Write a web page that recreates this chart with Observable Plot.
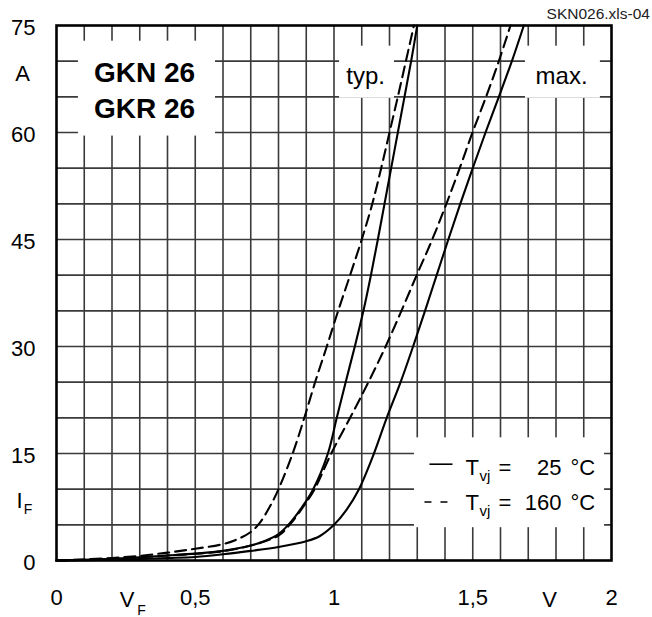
<!DOCTYPE html>
<html>
<head>
<meta charset="utf-8">
<script src="https://cdn.jsdelivr.net/npm/d3@7"></script>
<script src="https://cdn.jsdelivr.net/npm/@observablehq/plot@0.6"></script>
<style>
  html, body { margin: 0; padding: 0; background: #fff; }
  #chart svg { display: block; }
</style>
</head>
<body>
<div id="chart"></div>
<script>
// ---- data ----
const xTicks = [0, 0.5, 1, 1.5, 2];
const yTicks = [0, 15, 30, 45, 60, 75];
const xGrid = d3.range(1, 20).map(k => k / 10);
const yGrid = d3.range(1, 15).map(k => k * 5);

// typ., Tvj = 25 °C (solid)
const vTyp25 = [0, 0.1, 0.2, 0.3, 0.4, 0.5, 0.6, 0.7, 0.755, 0.8, 0.84, 0.885, 0.925, 0.978, 1.01, 1.042, 1.075, 1.106, 1.133, 1.158, 1.182, 1.206, 1.23, 1.254, 1.278, 1.30];
const iTyp25 = [0, 0.1, 0.25, 0.45, 0.7, 0.96, 1.35, 2.1, 2.8, 3.7, 5.2, 7.5, 10, 15, 20, 25, 30, 35, 40, 45, 50, 55, 60, 65, 70, 75];
// typ., Tvj = 160 °C (dashed)
const vTyp160 = [0, 0.1, 0.2, 0.3, 0.4, 0.5, 0.6, 0.653, 0.7, 0.731, 0.768, 0.80, 0.851, 0.893, 0.932, 0.974, 1.015, 1.058, 1.10, 1.138, 1.17, 1.20, 1.23, 1.259, 1.288];
const iTyp160 = [0, 0.15, 0.35, 0.65, 1.1, 1.65, 2.3, 3.0, 4.0, 5.2, 7.5, 10, 15, 20, 25, 30, 35, 40, 45, 50, 55, 60, 65, 70, 75];
// max., Tvj = 160 °C (dashed)
const vMax160 = [0, 0.1, 0.2, 0.3, 0.4, 0.5, 0.6, 0.7, 0.8, 0.84, 0.885, 0.93, 0.99, 1.058, 1.124, 1.186, 1.243, 1.298, 1.354, 1.405, 1.453, 1.499, 1.548, 1.594, 1.636];
const iMax160 = [0, 0.1, 0.25, 0.45, 0.7, 0.95, 1.3, 2.1, 3.5, 5.0, 7.3, 10, 15, 20, 25, 30, 35, 40, 45, 50, 55, 60, 65, 70, 75];
// max., Tvj = 25 °C (solid)
const vMax25 = [0, 0.1, 0.2, 0.3, 0.4, 0.5, 0.6, 0.7, 0.8, 0.9, 0.948, 1.0, 1.045, 1.09, 1.144, 1.19, 1.24, 1.285, 1.328, 1.37, 1.412, 1.455, 1.5, 1.546, 1.594, 1.641, 1.684];
const iMax25 = [0, 0.05, 0.12, 0.22, 0.35, 0.5, 0.87, 1.35, 1.9, 2.7, 3.4, 5.0, 7.1, 10, 15, 20, 25, 30, 35, 40, 45, 50, 55, 60, 65, 70, 75];

const titleLines = ["GKN 26", "GKR 26"];
const curveLabels = ["typ.", "max."];
const legendTemps = ["25", "160"];

const rows = (vs, is) => vs.map((v, k) => ({v, i: is[k]}));
const solid = [rows(vTyp25, iTyp25), rows(vMax25, iMax25)];
const dashed = [rows(vTyp160, iTyp160), rows(vMax160, iMax160)];

const FONT = "'Liberation Sans', Arial, Helvetica, sans-serif";
const gridStroke = "#3a3a3a";

const chart = Plot.plot({
  width: 652,
  height: 617,
  marginLeft: 56,
  marginRight: 41,
  marginTop: 25,
  marginBottom: 57,
  style: {fontFamily: FONT, background: "#fff", color: "#000", overflow: "visible"},
  x: {domain: [0, 2], label: null},
  y: {domain: [0, 75], label: null},
  marks: [
    Plot.ruleX(xGrid, {stroke: gridStroke, strokeWidth: 1.6}),
    Plot.ruleY(yGrid, {stroke: gridStroke, strokeWidth: 1.6}),
    // white label boxes interrupting the grid
    Plot.rect([
      {x1: 0.079, x2: 0.573, y1: 59.5, y2: 72.8},
      {x1: 1.02, x2: 1.218, y1: 64.8, y2: 72.1},
      {x1: 1.69, x2: 1.96, y1: 64.8, y2: 72.1},
      {x1: 1.29, x2: 1.975, y1: 4.6, y2: 17.2}
    ], {x1: "x1", x2: "x2", y1: "y1", y2: "y2", fill: "#fff"}),
    Plot.frame({stroke: "#000", strokeWidth: 2.6}),
    ...solid.map(d => Plot.line(d, {x: "v", y: "i", stroke: "#000", strokeWidth: 2.1, curve: "catmull-rom"})),
    ...dashed.map(d => Plot.line(d, {x: "v", y: "i", stroke: "#000", strokeWidth: 2.1, strokeDasharray: "11,6", curve: "catmull-rom"})),
    // axes
    Plot.axisX(xTicks, {tickSize: 0, tickPadding: 29, fontSize: 22, label: null,
      tickFormat: d => String(d).replace(".", ",")}),
    Plot.axisY(yTicks, {tickSize: 0, tickPadding: 21, fontSize: 22, label: null, dy: 2}),
    // axis units / names
    Plot.text(["A"], {x: [-0.1225], y: [68.2], fontSize: 22}),
    Plot.text(["I"], {x: [-0.133], y: [8.3], fontSize: 22}),
    Plot.text(["F"], {x: [-0.103], y: [7.2], fontSize: 14}),
    Plot.text(["V"], {x: [0.254], y: [-5.6], fontSize: 22}),
    Plot.text(["F"], {x: [0.306], y: [-7.0], fontSize: 14}),
    Plot.text(["V"], {x: [1.777], y: [-5.6], fontSize: 22}),
    // type title
    Plot.text(titleLines, {x: [0.317, 0.317], y: [68.3, 63.3], fontSize: 28, fontWeight: "bold"}),
    // typ / max
    Plot.text(curveLabels, {x: [1.114, 1.82], y: [67.9, 67.9], fontSize: 24}),
    // legend
    Plot.link([{x1: 1.344, x2: 1.427, y: 13.5}], {x1: "x1", x2: "x2", y1: "y", y2: "y", stroke: "#000", strokeWidth: 1.6}),
    Plot.link([{x1: 1.326, x2: 1.409, y: 8.2}], {x1: "x1", x2: "x2", y1: "y", y2: "y", stroke: "#000", strokeWidth: 1.6, strokeDasharray: "7,9"}),
    Plot.text(["T", "T"], {x: [1.4739, 1.4739], y: [12.95, 8.05], fontSize: 22, textAnchor: "start"}),
    Plot.text(["vj", "vj"], {x: [1.524, 1.524], y: [11.8, 6.9], fontSize: 15, textAnchor: "start"}),
    Plot.text(["=", "="], {x: [1.616, 1.616], y: [12.95, 8.05], fontSize: 22}),
    Plot.text(legendTemps, {x: [1.82, 1.82], y: [12.95, 8.05], fontSize: 22, textAnchor: "end"}),
    Plot.text(["°C", "°C"], {x: [1.852, 1.852], y: [12.95, 8.05], fontSize: 22, textAnchor: "start"}),
    // file reference
    Plot.text(["SKN026.xls-04"], {x: [1.766], y: [76.6], fontSize: 15.5, textAnchor: "start", fill: "#222"})
  ]
});
document.getElementById("chart").appendChild(chart);
</script>
</body>
</html>
